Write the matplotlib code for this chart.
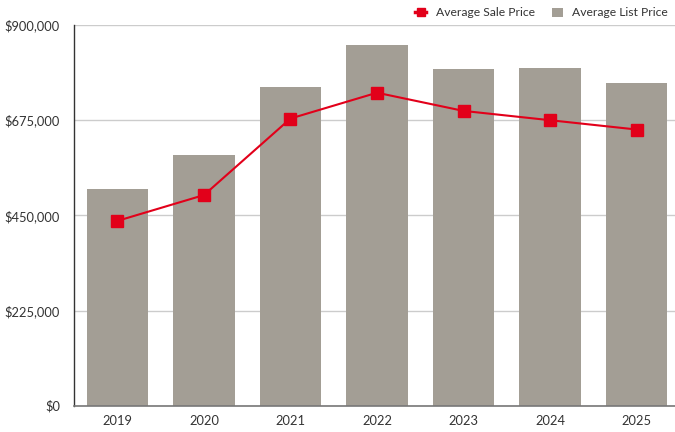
import matplotlib
matplotlib.use("Agg")
import matplotlib.pyplot as plt
from matplotlib.ticker import FuncFormatter
from matplotlib.lines import Line2D
from matplotlib.patches import Patch

years = ["2019", "2020", "2021", "2022", "2023", "2024", "2025"]
avg_list_price = [512000, 592000, 753000, 853000, 795000, 799000, 764000]
avg_sale_price = [437000, 498000, 679000, 740000, 697000, 675000, 653000]
y_ticks = [0, 225000, 450000, 675000, 900000]

bar_color = "#a39e95"
line_color = "#e2001a"
text_color = "#333333"

plt.rcParams["font.family"] = ["Lato", "DejaVu Sans"]

fig = plt.figure(figsize=(6.75, 4.32), dpi=100)
ax = fig.add_axes([0.1096, 0.061, 0.8904, 0.881])

x = list(range(len(years)))
ax.bar(x, avg_list_price, width=0.712, color=bar_color, zorder=2)
ax.plot(x, avg_sale_price, color=line_color, linewidth=1.5, marker="s",
        markersize=8.5, zorder=3)

ax.set_xlim(-0.503, 6.445)
ax.set_ylim(0, 900000)
ax.set_yticks(y_ticks)
ax.yaxis.set_major_formatter(FuncFormatter(lambda v, p: f"${v:,.0f}"))
ax.set_xticks(x)
ax.set_xticklabels(years)
ax.tick_params(axis="both", length=0, labelsize=9.3, colors=text_color)
ax.tick_params(axis="y", pad=10)
ax.tick_params(axis="x", pad=7)

ax.grid(axis="y", color="#cccccc", linewidth=1, zorder=0)
ax.set_axisbelow(True)
for side in ("top", "right"):
    ax.spines[side].set_visible(False)
ax.spines["left"].set_color("#333333")
ax.spines["left"].set_linewidth(1)
ax.spines["bottom"].set_color("#777777")
ax.spines["bottom"].set_linewidth(1.2)

handles = [
    Line2D([0], [0], color=line_color, linewidth=2.5, marker="s", markersize=6),
    Patch(facecolor=bar_color, edgecolor="none"),
]
labels = ["Average Sale Price", "Average List Price"]
fig.legend(handles, labels, loc="center right",
           bbox_to_anchor=(668 / 675, 1 - 13 / 432),
           ncol=2, frameon=False, fontsize=8.7, handlelength=0.9,
           handleheight=0.8, handletextpad=0.8, columnspacing=1.4,
           borderpad=0, borderaxespad=0, labelcolor=text_color)

fig.savefig("out.png", dpi=100)
